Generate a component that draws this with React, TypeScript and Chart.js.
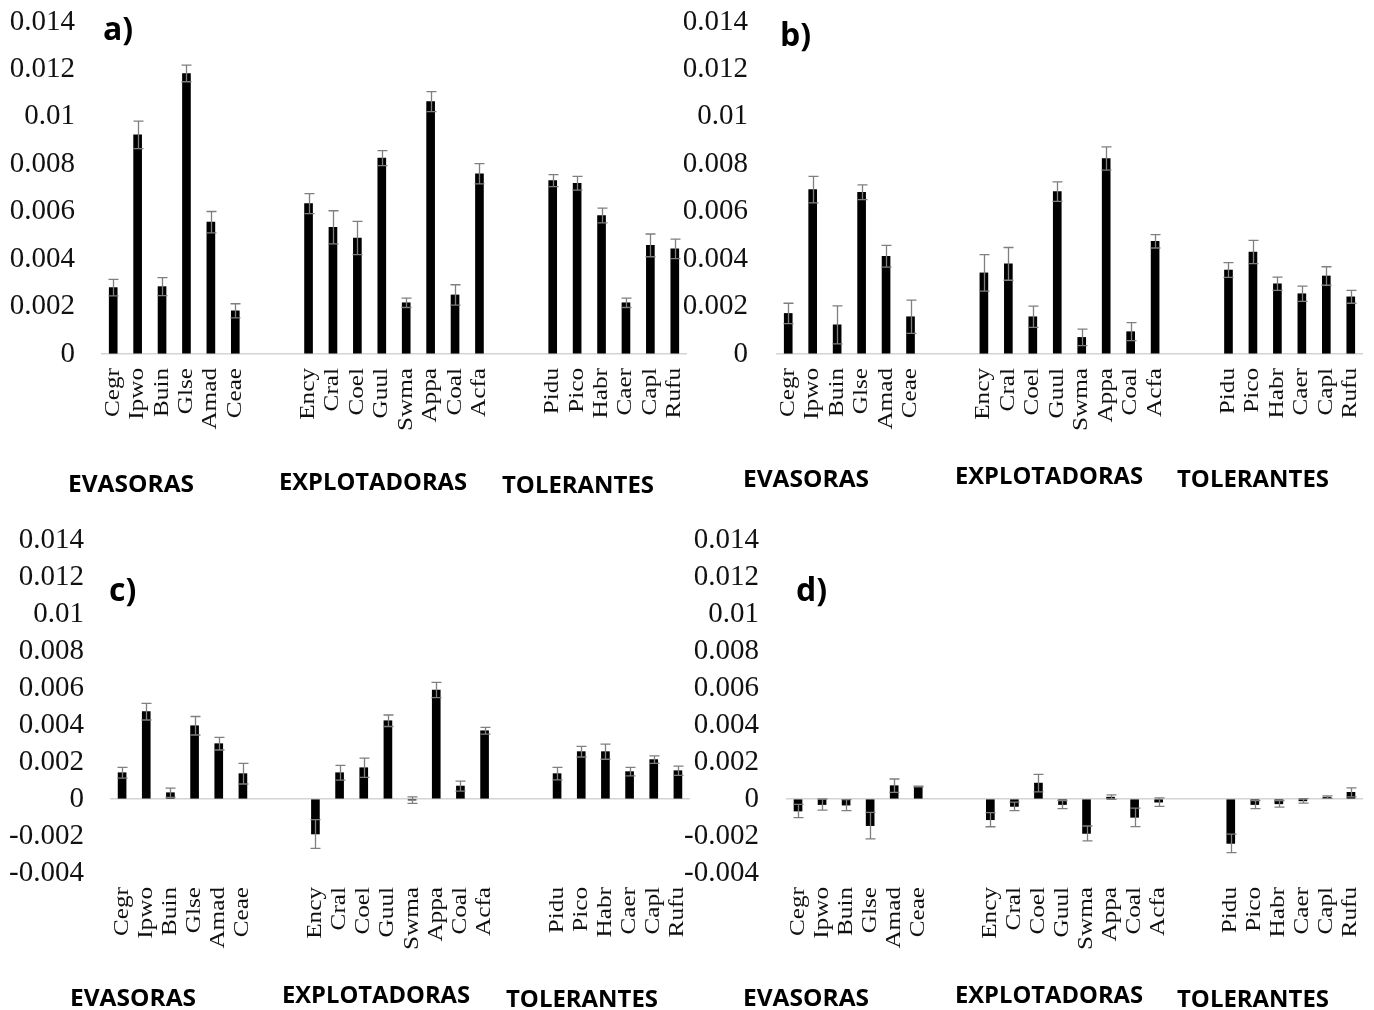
import React, { useEffect, useRef } from 'react';
import { Chart, registerables } from 'chart.js';

Chart.register(...registerables);

// ---------------- DATA ----------------
const evasoras = ['Cegr', 'Ipwo', 'Buin', 'Glse', 'Amad', 'Ceae'];
const explotadoras = ['Ency', 'Cral', 'Coel', 'Guul', 'Swma', 'Appa', 'Coal', 'Acfa'];
const tolerantes = ['Pidu', 'Pico', 'Habr', 'Caer', 'Capl', 'Rufu'];
const groupNames = ['EVASORAS', 'EXPLOTADORAS', 'TOLERANTES'];

const valuesA = [0.0028, 0.00924, 0.00284, 0.01183, 0.00556, 0.00182, 0.00634, 0.00534, 0.00489, 0.00826, 0.00216, 0.01064, 0.00249, 0.0076, 0.00731, 0.0072, 0.00584, 0.00216, 0.00458, 0.00443];
const errorsA = [0.00035, 0.00058, 0.00038, 0.00035, 0.00045, 0.0003, 0.00042, 0.0007, 0.0007, 0.00032, 0.0002, 0.00042, 0.00043, 0.00043, 0.00025, 0.00029, 0.00031, 0.0002, 0.00048, 0.00041];

const valuesB = [0.00171, 0.00693, 0.00123, 0.00682, 0.00412, 0.00157, 0.00342, 0.0038, 0.00157, 0.00685, 0.0007, 0.00824, 0.00094, 0.00475, 0.00354, 0.0043, 0.00296, 0.00254, 0.00329, 0.00241];
const errorsB = [0.00043, 0.00056, 0.0008, 0.00031, 0.00046, 0.0007, 0.00077, 0.00069, 0.00045, 0.00041, 0.00035, 0.00049, 0.00038, 0.00028, 0.00031, 0.00049, 0.00028, 0.00032, 0.00039, 0.00027];

const valuesC = [0.00142, 0.00472, 0.00034, 0.00396, 0.00299, 0.00137, -0.00189, 0.00142, 0.00169, 0.00423, -0.00006, 0.00589, 0.0007, 0.00369, 0.00137, 0.00256, 0.00256, 0.00148, 0.00213, 0.00153];
const errorsC = [0.00029, 0.00045, 0.00025, 0.0005, 0.00034, 0.00056, 0.00078, 0.0004, 0.00052, 0.00031, 0.00018, 0.00041, 0.00027, 0.00018, 0.00034, 0.00029, 0.00041, 0.00023, 0.0002, 0.00025];

const valuesD = [-0.00065, -0.0003, -0.00033, -0.00144, 0.00072, 0.00068, -0.00112, -0.0004, 0.00086, -0.0003, -0.00186, 0.0001, -0.00099, -0.00017, -0.0024, -0.0003, -0.00026, -0.0001, 0.0001, 0.00036];
const errorsD = [0.00036, 0.0003, 0.0003, 0.00072, 0.00036, 0.00002, 0.00038, 0.00023, 0.00047, 0.00022, 0.0004, 0.00012, 0.0005, 0.00023, 0.0005, 0.00022, 0.00018, 0.00012, 0.00007, 0.00024];

const yTicksPositive = [0, 0.002, 0.004, 0.006, 0.008, 0.01, 0.012, 0.014];
const yTicksFull = [-0.004, -0.002, 0, 0.002, 0.004, 0.006, 0.008, 0.01, 0.012, 0.014];

// ---------------- HELPERS ----------------
const slotLabels = [...evasoras, '', '', ...explotadoras, '', '', ...tolerantes];

function spread<T>(arr: T[]): (T | null)[] {
  const a = evasoras.length;
  const b = a + explotadoras.length;
  return [...arr.slice(0, a), null, null, ...arr.slice(a, b), null, null, ...arr.slice(b)];
}

type GroupPos = { x: number; y: number; w: number };
type PanelSpec = {
  letter: string;
  values: number[];
  errors: number[];
  ticks: number[];
  left: number;
  top: number;
  width: number;
  height: number;
  axisWidth: number;
  tickPad: number;
  padTop: number;
  padRight: number;
  padBottom: number;
  letterPos: { x: number; y: number };
  groupPos: GroupPos[];
};

const panels: PanelSpec[] = [
  {
    letter: 'a)', values: valuesA, errors: errorsA, ticks: yTicksPositive,
    left: 0, top: 0, width: 690, height: 500, axisWidth: 101, tickPad: 26, padTop: 22, padRight: 3, padBottom: 146,
    letterPos: { x: 103, y: 40 },
    groupPos: [{ x: 68, y: 492, w: 126 }, { x: 279, y: 490, w: 188 }, { x: 502, y: 493, w: 152 }],
  },
  {
    letter: 'b)', values: valuesB, errors: errorsB, ticks: yTicksPositive,
    left: 684, top: 0, width: 690, height: 500, axisWidth: 92, tickPad: 28, padTop: 22, padRight: 11, padBottom: 146,
    letterPos: { x: 780, y: 46 },
    groupPos: [{ x: 743, y: 487, w: 126 }, { x: 955, y: 484, w: 188 }, { x: 1177, y: 487, w: 152 }],
  },
  {
    letter: 'c)', values: valuesC, errors: errorsC, ticks: yTicksFull,
    left: 0, top: 500, width: 690, height: 510, axisWidth: 110, tickPad: 26, padTop: 40, padRight: 0, padBottom: 137,
    letterPos: { x: 109, y: 601 },
    groupPos: [{ x: 70, y: 1006, w: 126 }, { x: 282, y: 1003, w: 188 }, { x: 506, y: 1007, w: 152 }],
  },
  {
    letter: 'd)', values: valuesD, errors: errorsD, ticks: yTicksFull,
    left: 684, top: 500, width: 690, height: 510, axisWidth: 102, tickPad: 27, padTop: 40, padRight: 11, padBottom: 137,
    letterPos: { x: 796, y: 601 },
    groupPos: [{ x: 743, y: 1006, w: 126 }, { x: 955, y: 1003, w: 188 }, { x: 1177, y: 1007, w: 152 }],
  },
];

function fmt(v: number): string {
  return String(Number(v.toFixed(3)));
}

function Panel({ spec }: { spec: PanelSpec }) {
  const ref = useRef<HTMLCanvasElement>(null);

  useEffect(() => {
    if (!ref.current) return;
    const vals = spread(spec.values);
    const errs = spread(spec.errors);

    const decor = {
      id: 'decor' + spec.letter.charAt(0),
      afterDatasetsDraw(chart: any) {
        const ctx = chart.ctx;
        const meta = chart.getDatasetMeta(0);
        const ys = chart.scales.y;
        ctx.save();
        ctx.strokeStyle = '#7f7f7f';
        ctx.lineWidth = 1.3;
        vals.forEach((v, i) => {
          if (v == null) return;
          const e = errs[i] as number;
          const x = Math.round(meta.data[i].x) + 0.5;
          const yHi = ys.getPixelForValue(v + e);
          const yLo = ys.getPixelForValue(v - e);
          ctx.beginPath();
          ctx.moveTo(x, yHi);
          ctx.lineTo(x, yLo);
          ctx.moveTo(x - 5, yHi);
          ctx.lineTo(x + 5, yHi);
          ctx.moveTo(x - 5, yLo);
          ctx.lineTo(x + 5, yLo);
          ctx.stroke();
        });
        ctx.restore();
      },
      afterDraw(chart: any) {
        const ctx = chart.ctx;
        const xs = chart.scales.x;
        const area = chart.chartArea;
        ctx.save();
        // rotated category labels
        ctx.fillStyle = '#111';
        ctx.font = '21px "Liberation Serif", "Times New Roman", serif';
        ctx.textAlign = 'right';
        ctx.textBaseline = 'middle';
        slotLabels.forEach((lab, i) => {
          if (!lab) return;
          const x = xs.getPixelForValue(i);
          ctx.save();
          ctx.translate(x, area.bottom + 14);
          ctx.rotate(-Math.PI / 2);
          ctx.scale(1.2, 1);
          ctx.fillText(lab, 0, 0);
          ctx.restore();
        });
        // panel letter
        ctx.fillStyle = '#000';
        ctx.textAlign = 'left';
        ctx.textBaseline = 'alphabetic';
        ctx.font = 'bold 32px "Open Sans", "Liberation Sans", sans-serif';
        ctx.fillText(spec.letter, spec.letterPos.x - spec.left, spec.letterPos.y - spec.top);
        // group labels
        ctx.font = 'bold 24px "Open Sans", "Liberation Sans", sans-serif';
        groupNames.forEach((g, k) => {
          const p = spec.groupPos[k];
          const w = ctx.measureText(g).width;
          ctx.save();
          ctx.translate(p.x - spec.left, p.y - spec.top);
          ctx.scale(p.w / w, 1);
          ctx.fillText(g, 0, 0);
          ctx.restore();
        });
        ctx.restore();
      },
    };

    const chart = new Chart(ref.current, {
      type: 'bar',
      data: {
        labels: slotLabels,
        datasets: [
          {
            data: vals as any,
            backgroundColor: '#000000',
            borderWidth: 0,
            barThickness: 8,
          },
        ],
      },
      options: {
        animation: false,
        responsive: false,
        events: [],
        layout: {
          padding: { left: 0, top: spec.padTop, right: spec.padRight, bottom: spec.padBottom },
        },
        plugins: {
          legend: { display: false },
          tooltip: { enabled: false },
          title: { display: false },
        },
        scales: {
          x: {
            type: 'category',
            display: false,
            offset: true,
          },
          y: {
            min: spec.ticks[0],
            max: spec.ticks[spec.ticks.length - 1],
            afterBuildTicks: (scale: any) => {
              scale.ticks = spec.ticks.map((v) => ({ value: v }));
            },
            afterFit: (scale: any) => {
              scale.width = spec.axisWidth;
              scale.paddingTop = 0;
              scale.paddingBottom = 0;
            },
            border: { display: false },
            grid: {
              drawTicks: false,
              lineWidth: 1.5,
              color: (c: any) => (c.tick && Math.abs(c.tick.value) < 1e-9 ? '#d4d4d4' : 'rgba(0,0,0,0)'),
            },
            ticks: {
              autoSkip: false,
              padding: spec.tickPad,
              color: '#111',
              font: { family: '"Liberation Serif", "Times New Roman", serif', size: 29 },
              callback: (v: any) => fmt(Number(v)),
            },
          },
        },
      } as any,
      plugins: [decor],
    });
    return () => chart.destroy();
  }, [spec]);

  return (
    <canvas
      ref={ref}
      width={spec.width}
      height={spec.height}
      style={{ position: 'absolute', left: spec.left, top: spec.top, width: spec.width, height: spec.height }}
    />
  );
}

export default function App() {
  return (
    <div style={{ position: 'absolute', left: 0, top: 0, width: 1374, height: 1010, background: '#fff', overflow: 'hidden' }}>
      {panels.map((p) => (
        <Panel key={p.letter} spec={p} />
      ))}
    </div>
  );
}
